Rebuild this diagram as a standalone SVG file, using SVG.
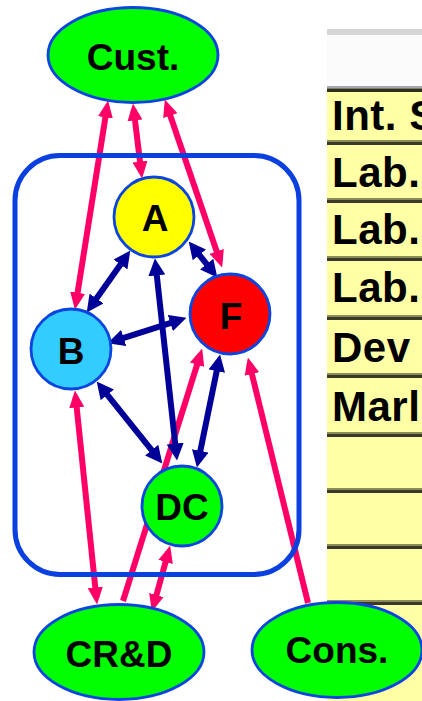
<svg xmlns="http://www.w3.org/2000/svg" width="422" height="701" viewBox="0 0 422 701">
<defs>
<style>
.pk{stroke:#ff0066;stroke-width:6;fill:none}
.nv{stroke:#000099;stroke-width:6;fill:none}
.nd{stroke:#0b45e0;stroke-width:2.8}
.lb{font-family:"Liberation Sans",Arial,sans-serif;font-weight:bold;font-size:37px;text-anchor:middle;fill:#000}
.tt{font-family:"Liberation Sans",Arial,sans-serif;font-weight:bold;font-size:42px;letter-spacing:0.5px;fill:#000}
.so{fill:#8c8c58}
.sd{fill:#3a3a28}
</style>
<marker id="hp" viewBox="0 0 17 15" refX="10.5" refY="7.5" markerWidth="17" markerHeight="15" markerUnits="userSpaceOnUse" orient="auto-start-reverse"><path d="M0,0 L17,7.5 L0,15 z" fill="#ff0066"/></marker>
<marker id="hn" viewBox="0 0 17 17" refX="10.5" refY="8.5" markerWidth="17" markerHeight="17" markerUnits="userSpaceOnUse" orient="auto-start-reverse"><path d="M0,0 L17,8.5 L0,17 z" fill="#000099"/></marker>
</defs>
<rect width="422" height="701" fill="#ffffff"/>
<g id="table">
<rect x="327" y="35" width="95" height="52" fill="#fbfbfb"/>
<rect x="327" y="29" width="95" height="6" fill="#d6d6d6"/>
<rect x="327" y="86" width="95" height="615" fill="#ffffa6"/>
<rect x="327" y="86" width="95" height="2.5" fill="#a8a8b0"/>
<rect x="327" y="88.5" width="95" height="3.5" fill="#2e2e20"/>
<rect class="so" x="327" y="140" width="95" height="2"/><rect class="sd" x="327" y="142" width="95" height="3"/>
<rect class="so" x="327" y="198" width="95" height="2"/><rect class="sd" x="327" y="200" width="95" height="3"/>
<rect class="so" x="327" y="256" width="95" height="2"/><rect class="sd" x="327" y="258" width="95" height="3"/>
<rect class="so" x="327" y="315" width="95" height="2"/><rect class="sd" x="327" y="317" width="95" height="3"/>
<rect class="so" x="327" y="373" width="95" height="2"/><rect class="sd" x="327" y="375" width="95" height="3"/>
<rect class="so" x="327" y="432" width="95" height="2"/><rect class="sd" x="327" y="434" width="95" height="3"/>
<rect class="so" x="327" y="488" width="95" height="2"/><rect class="sd" x="327" y="490" width="95" height="3"/>
<rect class="so" x="327" y="544" width="95" height="2"/><rect class="sd" x="327" y="546" width="95" height="3"/>
<rect class="so" x="327" y="600" width="95" height="2"/><rect class="sd" x="327" y="602" width="95" height="3"/>
<text class="tt" x="332" y="130">Int. S</text>
<text class="tt" x="332" y="187">Lab.</text>
<text class="tt" x="332" y="244">Lab.</text>
<text class="tt" x="332" y="302">Lab.</text>
<text class="tt" x="332" y="362">Dev</text>
<text class="tt" x="332" y="421">Marl</text>
</g>
<g id="connectors">
<line class="pk" x1="107.06" y1="106.93" x2="75.94" y2="303.07" marker-start="url(#hp)" marker-end="url(#hp)"/>
<line class="pk" x1="133.72" y1="109.96" x2="141.28" y2="172.04" marker-start="url(#hp)" marker-end="url(#hp)"/>
<line class="pk" x1="166.94" y1="105.68" x2="220.06" y2="261.32" marker-start="url(#hp)" marker-end="url(#hp)"/>
<line class="pk" x1="75.62" y1="396.97" x2="96.38" y2="598.03" marker-start="url(#hp)" marker-end="url(#hp)"/>
<line class="pk" x1="123" y1="601" x2="200.21" y2="354.73" marker-end="url(#hp)"/>
<line class="pk" x1="168.4" y1="551.78" x2="153.6" y2="605.22" marker-start="url(#hp)" marker-end="url(#hp)"/>
<line class="pk" x1="308" y1="603" x2="249.43" y2="363.83" marker-end="url(#hp)"/>
<line class="nv" x1="126.54" y1="255.9" x2="90.46" y2="307.1" marker-start="url(#hn)" marker-end="url(#hn)"/>
<line class="nv" x1="192.75" y1="246.69" x2="213.25" y2="272.31" marker-start="url(#hn)" marker-end="url(#hn)"/>
<line class="nv" x1="180.29" y1="319.83" x2="113.71" y2="341.17" marker-start="url(#hn)" marker-end="url(#hn)"/>
<line class="nv" x1="155.65" y1="264.96" x2="176.35" y2="454.04" marker-start="url(#hn)" marker-end="url(#hn)"/>
<line class="nv" x1="100.75" y1="386.68" x2="158.25" y2="458.32" marker-start="url(#hn)" marker-end="url(#hn)"/>
<line class="nv" x1="218.79" y1="360.88" x2="198.21" y2="461.12" marker-start="url(#hn)" marker-end="url(#hn)"/>
</g>
<g id="group-box">
<rect x="15" y="155.5" width="284" height="419" rx="45" ry="45" fill="none" stroke="#0a3fe0" stroke-width="5"/>
</g>
<g id="cust"><ellipse class="nd" cx="133" cy="55" rx="85" ry="47.5" fill="#00ff00"/><text class="lb" x="133" y="70">Cust.</text></g>
<g id="a"><circle class="nd" cx="154" cy="217" r="40" fill="#ffff00"/><text class="lb" x="155" y="231">A</text></g>
<g id="b"><circle class="nd" cx="71" cy="349" r="40" fill="#33ccff"/><text class="lb" x="71" y="364">B</text></g>
<g id="f"><circle class="nd" cx="230" cy="314" r="40" fill="#ff0000"/><text class="lb" x="231" y="329">F</text></g>
<g id="dc"><circle class="nd" cx="182" cy="506" r="40" fill="#00ff00"/><text class="lb" x="182" y="520">DC</text></g>
<g id="crd"><ellipse class="nd" cx="119" cy="652" rx="85" ry="47.5" fill="#00ff00"/><text class="lb" x="119" y="667">CR&amp;D</text></g>
<g id="cons"><ellipse class="nd" cx="337" cy="650" rx="85" ry="47.5" fill="#00ff00"/><text class="lb" x="337" y="663">Cons.</text></g>
</svg>
